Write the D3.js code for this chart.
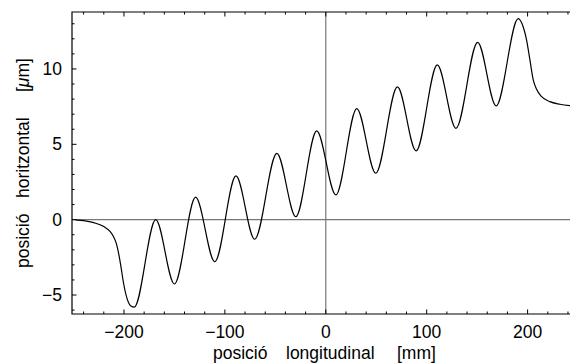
<!DOCTYPE html>
<html>
<head>
<meta charset="utf-8">
<script src="https://cdn.jsdelivr.net/npm/d3@7"></script>
<style>
  body { margin: 0; background: #fff; }
  text { font-family: "Liberation Sans", Arial, sans-serif; fill: #000; font-size: 17.5px; }
</style>
</head>
<body>
<div id="chart"></div>
<script>
// trajectory: longitudinal position [mm] / horizontal position [um]
var posLong = [-248, -240, -230, -220, -213.6, -210.3, -207.6, -205.3, -203, -200.4, -197, -193.1,
  -189.8, -168.5, -150, -129, -110, -89, -70.5, -48.5, -29.7, -9, 10, 30.7, 49.5, 71, 89.5,
  110.5, 129, 150.5, 168.8, 190.7, 195.6, 199, 202.3, 205.6, 208.9, 213.9, 222, 232, 244];
var posHor = [-0.02, -0.07, -0.2, -0.46, -0.8, -1.13, -1.57, -2.23, -3.12, -4.22, -5.22, -5.73,
  -5.81, 0.0, -4.27, 1.49, -2.79, 2.9, -1.30, 4.4, 0.2, 5.89, 1.64, 7.37, 3.08, 8.81, 4.56,
  10.27, 6.06, 11.77, 7.55, 13.34, 12.8, 11.92, 10.6, 9.27, 8.65, 8.16, 7.83, 7.66, 7.55];

var xTicks = [-200, -100, 0, 100, 200];
var yTicks = [-5, 0, 5, 10];
var xTitle = ["posició", "longitudinal", "[mm]"];
var yTitle = ["posició", "horitzontal"];

var width = 570, height = 363;
var plotL = 72, plotT = 12, plotR = 572, plotB = 314;

var svg = d3.select("#chart").append("svg")
  .attr("width", width)
  .attr("height", height)

var x = d3.scaleLinear().domain([-251.5, 244]).range([plotL, plotR]);
var y = d3.scaleLinear().domain([-6.26, 13.78]).range([plotB, plotT]);

var data = posLong.map(function(d, i) { return [d, posHor[i]]; });

// zero lines
svg.append("line")
  .attr("x1", plotL).attr("x2", plotR)
  .attr("y1", y(0)).attr("y2", y(0))
  .attr("stroke", "#777").attr("stroke-width", 1.2)
svg.append("line")
  .attr("x1", x(0)).attr("x2", x(0))
  .attr("y1", plotT).attr("y2", plotB)
  .attr("stroke", "#777").attr("stroke-width", 1.2)

// curve
var line = d3.line()
  .x(function(d) { return x(d[0]); })
  .y(function(d) { return y(d[1]); })
  .curve(d3.curveMonotoneX)

svg.append("path")
  .datum(data)
  .attr("d", line)
  .attr("fill", "none")
  .attr("stroke", "#000")
  .attr("stroke-width", 1.2)

// frame (right side falls outside the picture)
svg.append("path")
  .attr("d", "M" + plotR + "," + plotT + "H" + plotL + "V" + plotB + "H" + plotR)
  .attr("fill", "none")
  .attr("stroke", "#000")
  .attr("stroke-width", 1.2)

// ticks, pointing inwards
d3.range(-240, 241, 20).forEach(function(v) {
  var len = xTicks.indexOf(v) >= 0 ? 4.5 : 2.5;
  svg.append("line").attr("x1", x(v)).attr("x2", x(v))
    .attr("y1", plotB).attr("y2", plotB - len).attr("stroke", "#000")
  svg.append("line").attr("x1", x(v)).attr("x2", x(v))
    .attr("y1", plotT).attr("y2", plotT + len).attr("stroke", "#000")
})
d3.range(-6, 14, 1).forEach(function(v) {
  var len = yTicks.indexOf(v) >= 0 ? 4.5 : 2.5;
  svg.append("line").attr("x1", plotL).attr("x2", plotL + len)
    .attr("y1", y(v)).attr("y2", y(v)).attr("stroke", "#000")
})

var fmt = function(v) { return v < 0 ? "\u2212" + Math.abs(v) : String(v); };

svg.selectAll(".xlab").data(xTicks).enter().append("text")
  .attr("class", "xlab")
  .attr("x", function(d) { return x(d); })
  .attr("y", 337.5)
  .attr("text-anchor", "middle")
  .text(fmt)

svg.selectAll(".ylab").data(yTicks).enter().append("text")
  .attr("class", "ylab")
  .attr("x", 62)
  .attr("y", function(d) { return y(d) + 6; })
  .attr("text-anchor", "end")
  .text(fmt)

// x title, words spaced as in the picture
var xWordPos = [213, 286, 397];
svg.selectAll(".xtitle").data(xTitle).enter().append("text")
  .attr("class", "xtitle")
  .attr("x", function(d, i) { return xWordPos[i]; })
  .attr("y", 359)
  .text(function(d) { return d; })

// y title, rotated
var yWordPos = [268, 198];
svg.selectAll(".ytitle").data(yTitle).enter().append("text")
  .attr("class", "ytitle")
  .attr("transform", function(d, i) { return "translate(29," + yWordPos[i] + ") rotate(-90)"; })
  .text(function(d) { return d; })

var unit = svg.append("text")
  .attr("transform", "translate(29,92) rotate(-90)")
unit.append("tspan").text("[")
unit.append("tspan").style("font-style", "italic").text("\u03bc")
unit.append("tspan").text("m]")
</script>
</body>
</html>
